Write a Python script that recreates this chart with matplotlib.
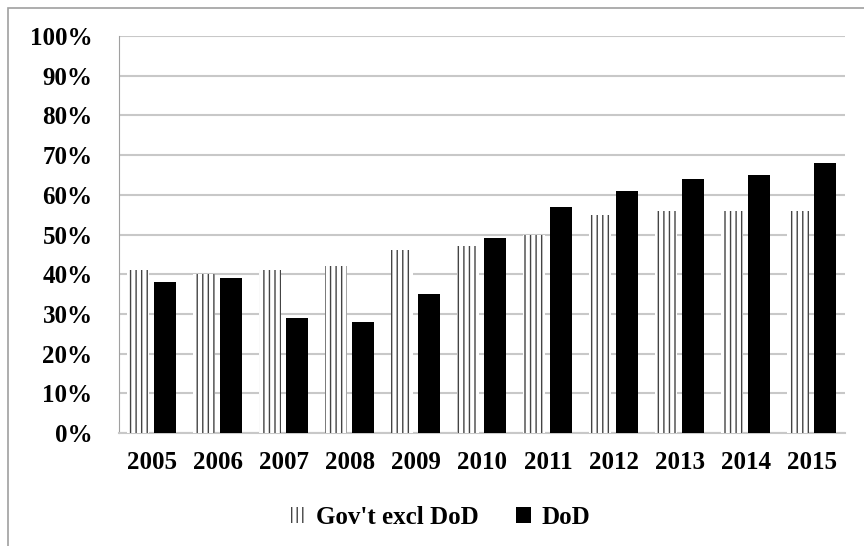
import numpy as np
import matplotlib.pyplot as plt
from matplotlib.patches import Rectangle

plt.rcParams['font.family'] = ['Liberation Serif', 'DejaVu Serif']
plt.rcParams['font.weight'] = 'bold'
plt.rcParams['hatch.linewidth'] = 1.0
plt.rcParams['hatch.color'] = '#444444'

years = ['2005', '2006', '2007', '2008', '2009', '2010', '2011', '2012', '2013', '2014', '2015']
gov_excl_dod = [41, 40, 41, 42, 46, 47, 50, 55, 56, 56, 56]
dod = [38, 39, 29, 28, 35, 49, 57, 61, 64, 65, 68]

fig = plt.figure(figsize=(8.64, 5.46), dpi=100)
ax = fig.add_axes([0.1377, 0.207, 0.8403, 0.727])

x = np.arange(len(years))
w = 0.33
ax.bar(x - 0.21, gov_excl_dod, w, color='white', edgecolor='#444444', hatch='|||', linewidth=0,
       label="Gov't excl DoD", zorder=3)
ax.bar(x + 0.2, dod, w, color='black', label='DoD', zorder=3)

ax.set_xlim(-0.5, len(years) - 0.5)
ax.set_ylim(0, 100)
ax.set_yticks(range(0, 101, 10))
ax.set_yticklabels([f'{v}%' for v in range(0, 101, 10)], fontsize=18, fontweight='bold')
ax.set_xticks(x)
ax.set_xticklabels(years, fontsize=18, fontweight='bold')
ax.tick_params(length=0)
ax.tick_params(axis='x', pad=13)
ax.tick_params(axis='y', pad=19)
ax.grid(axis='y', color='#c8c8c8', linewidth=1.5, zorder=0)
for s in ['top', 'right']:
    ax.spines[s].set_visible(False)
ax.spines['left'].set_color('#a0a0a0')
ax.spines['bottom'].set_color('#c8c8c8')
ax.spines['bottom'].set_linewidth(1.5)

fig.legend(loc='center', bbox_to_anchor=(0.51, 0.053), ncol=2, frameon=False,
           prop={'family': 'Liberation Serif', 'weight': 'bold', 'size': 18},
           handlelength=0.6, handleheight=0.6, columnspacing=1.5, handletextpad=0.4)

fig.patches.append(Rectangle((0.009, -0.01), 1.2, 0.995, transform=fig.transFigure,
                             fill=False, edgecolor='#a0a0a0', linewidth=1.2))

fig.savefig('out.png', dpi=100)
